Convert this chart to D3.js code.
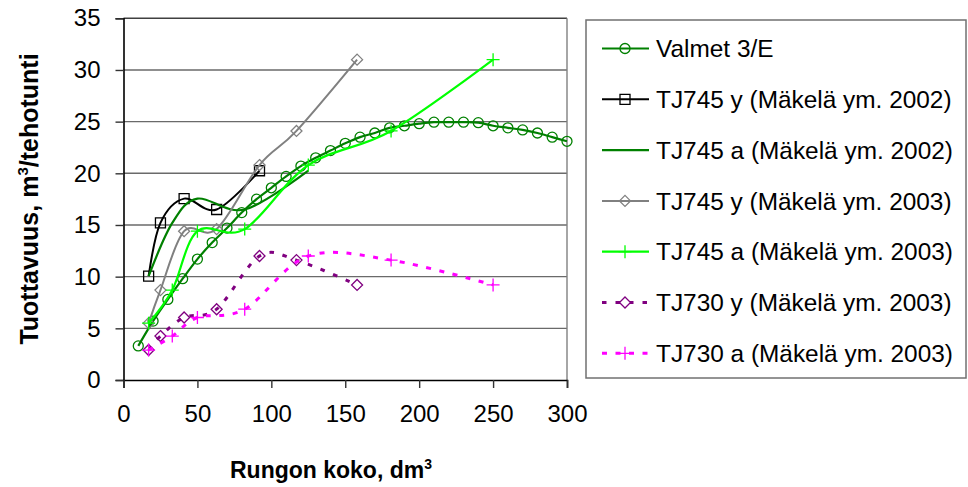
<!DOCTYPE html>
<html><head><meta charset="utf-8">
<script src="https://cdn.jsdelivr.net/npm/d3@7"></script>
<style>body{margin:0;background:#fff}svg{display:block;font-family:"Liberation Sans",Arial,sans-serif}</style>
</head><body><svg id="c" width="968" height="487"></svg>
<script>
// ---- data ----
const xTicks = [0, 50, 100, 150, 200, 250, 300];
const yTicks = [0, 5, 10, 15, 20, 25, 30, 35];

const valmetX = [10,20,30,40,50,60,70,80,90,100,110,120,130,140,150,160,170,180,190,200,210,220,230,240,250,260,270,280,290,300];
const valmetY = [3.3,5.7,7.8,9.8,11.7,13.3,14.7,16.2,17.5,18.6,19.7,20.7,21.5,22.2,22.9,23.5,23.9,24.4,24.6,24.8,24.95,24.95,24.95,24.9,24.6,24.4,24.2,23.9,23.5,23.1];

const tj745y02X = [17,25,41,63,92];
const tj745y02Y = [10.05,15.2,17.55,16.5,20.25];

const tj745a02X = [17,33,50,82,125];
const tj745a02Y = [10.05,15.2,17.55,16.5,20.25];

const tj745y03X = [17,25,41,63,92,117,158];
const tj745y03Y = [5.5,8.7,14.4,14.6,20.8,24.1,31.0];

const tj745a03X = [17,33,50,82,125,181,250];
const tj745a03Y = [5.5,8.7,14.4,14.6,20.8,24.1,31.0];

const tj730y03X = [17,25,41,63,92,117,158];
const tj730y03Y = [2.9,4.25,6.05,6.85,12.0,11.6,9.2];

const tj730a03X = [17,33,50,82,125,181,250];
const tj730a03Y = [2.9,4.25,6.05,6.85,12.0,11.6,9.2];

const seriesNames = [
  "Valmet 3/E",
  "TJ745 y (Mäkelä ym. 2002)",
  "TJ745 a (Mäkelä ym. 2002)",
  "TJ745 y (Mäkelä ym. 2003)",
  "TJ745 a (Mäkelä ym. 2003)",
  "TJ730 y (Mäkelä ym. 2003)",
  "TJ730 a (Mäkelä ym. 2003)"
];

const series = [
  {name: seriesNames[0], xs: valmetX, ys: valmetY, color: "#008000", marker: "circle", dash: null, width: 2.2},
  {name: seriesNames[1], xs: tj745y02X, ys: tj745y02Y, color: "#000000", marker: "square", dash: null, width: 2},
  {name: seriesNames[2], xs: tj745a02X, ys: tj745a02Y, color: "#008000", marker: null, dash: null, width: 2.2},
  {name: seriesNames[3], xs: tj745y03X, ys: tj745y03Y, color: "#808080", marker: "diamond", dash: null, width: 2},
  {name: seriesNames[4], xs: tj745a03X, ys: tj745a03Y, color: "#00FF00", marker: "plus", dash: null, width: 2.2},
  {name: seriesNames[5], xs: tj730y03X, ys: tj730y03Y, color: "#800080", marker: "diamond", dash: "4.5,9", width: 3},
  {name: seriesNames[6], xs: tj730a03X, ys: tj730a03Y, color: "#FF00FF", marker: "plus", dash: "5,8.5", width: 3}
];

// ---- layout ----
const svg = d3.select("#c");
const x = d3.scaleLinear().domain([0, 300]).range([123.5, 567]);
const y = d3.scaleLinear().domain([0, 35]).range([380, 18.3]);
const FONT = 24;

// gridlines
svg.append("g").selectAll("line").data(yTicks.filter(d => d > 0)).join("line")
  .attr("x1", x(0)).attr("x2", x(300))
  .attr("y1", d => y(d)).attr("y2", d => y(d))
  .attr("stroke", d => d === 35 ? "#404040" : "#6a6a6a").attr("stroke-width", 1.4);
// right border of plot area
svg.append("line").attr("x1", x(300)).attr("x2", x(300)).attr("y1", y(35)).attr("y2", y(0))
  .attr("stroke", "#808080").attr("stroke-width", 1.4);

// axes
const yAxis = d3.axisLeft(y).tickValues(yTicks).tickSize(8).tickPadding(15);
const gy = svg.append("g").attr("transform", `translate(${x(0)},0)`).call(yAxis);
const xAxis = d3.axisBottom(x).tickValues(xTicks).tickSize(8).tickPadding(17);
const gx = svg.append("g").attr("transform", `translate(0,${y(0)})`).call(xAxis);
[gx, gy].forEach(g => {
  g.select(".domain").attr("stroke", "#000").attr("stroke-width", 1.6);
  g.selectAll(".tick line").attr("stroke", "#333").attr("stroke-width", 1.4);
  g.selectAll(".tick text").attr("font-size", FONT).attr("fill", "#000")
    .attr("font-family", "'Liberation Sans', Arial, sans-serif");
});

// marker shapes
function markerPath(type) {
  const p = d3.path();
  if (type === "circle") { p.arc(0, 0, 5, 0, 2 * Math.PI); }
  else if (type === "square") { p.rect(-5, -5, 10, 10); }
  else if (type === "diamond") { p.moveTo(0, -5.5); p.lineTo(5.5, 0); p.lineTo(0, 5.5); p.lineTo(-5.5, 0); p.closePath(); }
  else if (type === "plus") { p.moveTo(-6.5, 0); p.lineTo(6.5, 0); p.moveTo(0, -6.5); p.lineTo(0, 6.5); }
  return p.toString();
}

const line = d3.line().x(d => x(d[0])).y(d => y(d[1])).curve(d3.curveCatmullRom.alpha(0));
const plot = svg.append("g");
series.forEach(s => {
  const pts = s.xs.map((v, i) => [v, s.ys[i]]);
  plot.append("path").datum(pts).attr("d", line)
    .attr("fill", "none").attr("stroke", s.color).attr("stroke-width", s.width)
    .attr("stroke-dasharray", s.dash);
  if (s.marker) {
    plot.append("g").selectAll("path").data(pts).join("path")
      .attr("transform", d => `translate(${x(d[0])},${y(d[1])})`)
      .attr("d", markerPath(s.marker))
      .attr("fill", "none").attr("stroke", s.color).attr("stroke-width", 1.3);
  }
});

// axis titles
svg.append("text").attr("x", 331).attr("y", 478).attr("text-anchor", "middle")
  .attr("font-size", 23).attr("font-weight", "bold")
  .html('Rungon koko, dm<tspan dy="-9" font-size="14">3</tspan>');
svg.append("text").attr("transform", "translate(38,199) rotate(-90)").attr("text-anchor", "middle")
  .attr("font-size", 25).attr("font-weight", "bold")
  .html('Tuottavuus, m<tspan dy="-10" font-size="15">3</tspan><tspan dy="10">/tehotunti</tspan>');

// legend
const lg = svg.append("g");
lg.append("rect").attr("x", 586).attr("y", 20).attr("width", 380).attr("height", 358)
  .attr("fill", "#fff").attr("stroke", "#707070").attr("stroke-width", 1.5);
series.forEach((s, i) => {
  const cy = 48.5 + i * 50.8;
  const g = lg.append("g");
  g.append("line").attr("x1", 602).attr("x2", 649).attr("y1", cy).attr("y2", cy)
    .attr("stroke", s.color).attr("stroke-width", s.width).attr("stroke-dasharray", s.dash);
  if (s.marker) {
    g.append("path").attr("transform", `translate(625,${cy})`).attr("d", markerPath(s.marker))
      .attr("fill", s.dash ? "#fff" : "none").attr("stroke", s.color).attr("stroke-width", 1.3);
  }
  g.append("text").attr("x", 656).attr("y", cy).attr("dy", "0.36em")
    .attr("font-size", 24.4).attr("fill", "#000").text(s.name);
});
</script></body></html>
